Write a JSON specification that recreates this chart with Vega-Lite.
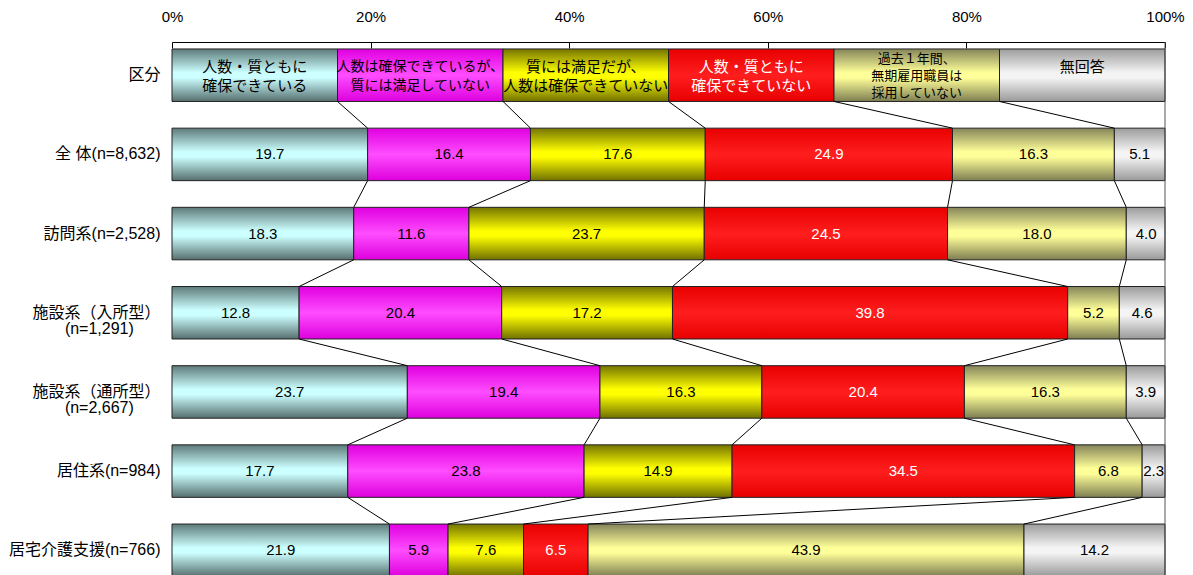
{
  "$schema": "https://vega.github.io/schema/vega-lite/v6.json",
  "width": 993,
  "height": 541.5,
  "autosize": "none",
  "padding": {"left": 172, "top": 42, "right": 28, "bottom": 0},
  "background": "white",
  "config": {
    "view": {"stroke": null},
    "font": "Liberation Sans, Noto Sans CJK JP",
    "axisX": {"tickCount": 5, "labelExpr": "datum.value + '%'", "grid": false, "domainColor": "#000", "tickColor": "#000", "tickSize": -6, "labelPadding": 24, "labelFontSize": 15, "labelColor": "#000", "labelFlush": false},
    "axisY": {"domain": false, "ticks": false, "labelPadding": 12, "labelFontSize": 16, "labelColor": "#000", "labelExpr": "split(datum.label, '\\n')", "labelLineHeight": 16, "labelLimit": 200}
  },
  "data": {"values": [
    {"row": "区分", "i": 0, "k": 0, "cat": "人数・質ともに\n確保できている", "v": 16.6667},
    {"row": "区分", "i": 0, "k": 1, "cat": "人数は確保できているが、\n質には満足していない", "v": 16.6667},
    {"row": "区分", "i": 0, "k": 2, "cat": "質には満足だが、\n人数は確保できていない", "v": 16.6667},
    {"row": "区分", "i": 0, "k": 3, "cat": "人数・質ともに\n確保できていない", "v": 16.6667},
    {"row": "区分", "i": 0, "k": 4, "cat": "過去１年間、\n無期雇用職員は\n採用していない", "v": 16.6667},
    {"row": "区分", "i": 0, "k": 5, "cat": "無回答", "v": 16.6665},
    {"row": "全 体(n=8,632)", "i": 1, "k": 0, "cat": "", "v": 19.7},
    {"row": "全 体(n=8,632)", "i": 1, "k": 1, "cat": "", "v": 16.4},
    {"row": "全 体(n=8,632)", "i": 1, "k": 2, "cat": "", "v": 17.6},
    {"row": "全 体(n=8,632)", "i": 1, "k": 3, "cat": "", "v": 24.9},
    {"row": "全 体(n=8,632)", "i": 1, "k": 4, "cat": "", "v": 16.3},
    {"row": "全 体(n=8,632)", "i": 1, "k": 5, "cat": "", "v": 5.1},
    {"row": "訪問系(n=2,528)", "i": 2, "k": 0, "cat": "", "v": 18.3},
    {"row": "訪問系(n=2,528)", "i": 2, "k": 1, "cat": "", "v": 11.6},
    {"row": "訪問系(n=2,528)", "i": 2, "k": 2, "cat": "", "v": 23.7},
    {"row": "訪問系(n=2,528)", "i": 2, "k": 3, "cat": "", "v": 24.5},
    {"row": "訪問系(n=2,528)", "i": 2, "k": 4, "cat": "", "v": 18.0},
    {"row": "訪問系(n=2,528)", "i": 2, "k": 5, "cat": "", "v": 4.0},
    {"row": "施設系（入所型）\n(n=1,291)\u00a0\u00a0\u00a0\u00a0\u00a0\u00a0\u200b", "i": 3, "k": 0, "cat": "", "v": 12.8},
    {"row": "施設系（入所型）\n(n=1,291)\u00a0\u00a0\u00a0\u00a0\u00a0\u00a0\u200b", "i": 3, "k": 1, "cat": "", "v": 20.4},
    {"row": "施設系（入所型）\n(n=1,291)\u00a0\u00a0\u00a0\u00a0\u00a0\u00a0\u200b", "i": 3, "k": 2, "cat": "", "v": 17.2},
    {"row": "施設系（入所型）\n(n=1,291)\u00a0\u00a0\u00a0\u00a0\u00a0\u00a0\u200b", "i": 3, "k": 3, "cat": "", "v": 39.8},
    {"row": "施設系（入所型）\n(n=1,291)\u00a0\u00a0\u00a0\u00a0\u00a0\u00a0\u200b", "i": 3, "k": 4, "cat": "", "v": 5.2},
    {"row": "施設系（入所型）\n(n=1,291)\u00a0\u00a0\u00a0\u00a0\u00a0\u00a0\u200b", "i": 3, "k": 5, "cat": "", "v": 4.6},
    {"row": "施設系（通所型）\n(n=2,667)\u00a0\u00a0\u00a0\u00a0\u00a0\u00a0\u200b", "i": 4, "k": 0, "cat": "", "v": 23.7},
    {"row": "施設系（通所型）\n(n=2,667)\u00a0\u00a0\u00a0\u00a0\u00a0\u00a0\u200b", "i": 4, "k": 1, "cat": "", "v": 19.4},
    {"row": "施設系（通所型）\n(n=2,667)\u00a0\u00a0\u00a0\u00a0\u00a0\u00a0\u200b", "i": 4, "k": 2, "cat": "", "v": 16.3},
    {"row": "施設系（通所型）\n(n=2,667)\u00a0\u00a0\u00a0\u00a0\u00a0\u00a0\u200b", "i": 4, "k": 3, "cat": "", "v": 20.4},
    {"row": "施設系（通所型）\n(n=2,667)\u00a0\u00a0\u00a0\u00a0\u00a0\u00a0\u200b", "i": 4, "k": 4, "cat": "", "v": 16.3},
    {"row": "施設系（通所型）\n(n=2,667)\u00a0\u00a0\u00a0\u00a0\u00a0\u00a0\u200b", "i": 4, "k": 5, "cat": "", "v": 3.9},
    {"row": "居住系(n=984)", "i": 5, "k": 0, "cat": "", "v": 17.7},
    {"row": "居住系(n=984)", "i": 5, "k": 1, "cat": "", "v": 23.8},
    {"row": "居住系(n=984)", "i": 5, "k": 2, "cat": "", "v": 14.9},
    {"row": "居住系(n=984)", "i": 5, "k": 3, "cat": "", "v": 34.5},
    {"row": "居住系(n=984)", "i": 5, "k": 4, "cat": "", "v": 6.8},
    {"row": "居住系(n=984)", "i": 5, "k": 5, "cat": "", "v": 2.3},
    {"row": "居宅介護支援(n=766)", "i": 6, "k": 0, "cat": "", "v": 21.9},
    {"row": "居宅介護支援(n=766)", "i": 6, "k": 1, "cat": "", "v": 5.9},
    {"row": "居宅介護支援(n=766)", "i": 6, "k": 2, "cat": "", "v": 7.6},
    {"row": "居宅介護支援(n=766)", "i": 6, "k": 3, "cat": "", "v": 6.5},
    {"row": "居宅介護支援(n=766)", "i": 6, "k": 4, "cat": "", "v": 43.9},
    {"row": "居宅介護支援(n=766)", "i": 6, "k": 5, "cat": "", "v": 14.2}
  ]},
  "layer": [
    {
      "transform": [{"stack": "v", "groupby": ["row"], "sort": [{"field": "k", "order": "ascending"}], "as": ["x0", "x1"]}],
      "encoding": {
        "y": {"field": "row", "type": "nominal", "title": null,
          "sort": ["区分", "全 体(n=8,632)", "訪問系(n=2,528)", "施設系（入所型）\n(n=1,291)\u00a0\u00a0\u00a0\u00a0\u00a0\u00a0\u200b", "施設系（通所型）\n(n=2,667)\u00a0\u00a0\u00a0\u00a0\u00a0\u00a0\u200b", "居住系(n=984)", "居宅介護支援(n=766)"],
          "scale": {"paddingInner": 0.337, "paddingOuter": 0.088}}
      },
      "layer": [
        {"transform": [{"filter": "datum.k == 0"}],
         "mark": {"type": "bar", "stroke": "#222", "strokeWidth": 1, "fill": {"gradient": "linear", "x1": 0, "y1": 0, "x2": 0, "y2": 1, "stops": [{"offset": 0, "color": "#5e7a7a"}, {"offset": 0.45, "color": "#ccffff"}, {"offset": 0.55, "color": "#ccffff"}, {"offset": 1, "color": "#566e6e"}]}},
         "encoding": {"x": {"field": "x0", "type": "quantitative", "title": null, "scale": {"domain": [0, 100], "clamp": true, "nice": false}, "axis": {"orient": "top"}}, "x2": {"field": "x1"}}},
        {"transform": [{"filter": "datum.k == 1"}],
         "mark": {"type": "bar", "stroke": "#222", "strokeWidth": 1, "fill": {"gradient": "linear", "x1": 0, "y1": 0, "x2": 0, "y2": 1, "stops": [{"offset": 0, "color": "#e000e0"}, {"offset": 0.5, "color": "#ff4dff"}, {"offset": 1, "color": "#dd00dd"}]}},
         "encoding": {"x": {"field": "x0", "type": "quantitative", "title": null, "axis": {"orient": "top"}}, "x2": {"field": "x1"}}},
        {"transform": [{"filter": "datum.k == 2"}],
         "mark": {"type": "bar", "stroke": "#222", "strokeWidth": 1, "fill": {"gradient": "linear", "x1": 0, "y1": 0, "x2": 0, "y2": 1, "stops": [{"offset": 0, "color": "#757500"}, {"offset": 0.45, "color": "#ffff00"}, {"offset": 0.55, "color": "#ffff00"}, {"offset": 1, "color": "#707000"}]}},
         "encoding": {"x": {"field": "x0", "type": "quantitative", "title": null, "axis": {"orient": "top"}}, "x2": {"field": "x1"}}},
        {"transform": [{"filter": "datum.k == 3"}],
         "mark": {"type": "bar", "stroke": "#222", "strokeWidth": 1, "fill": {"gradient": "linear", "x1": 0, "y1": 0, "x2": 0, "y2": 1, "stops": [{"offset": 0, "color": "#e80000"}, {"offset": 0.5, "color": "#ff1e1e"}, {"offset": 1, "color": "#e80000"}]}},
         "encoding": {"x": {"field": "x0", "type": "quantitative", "title": null, "axis": {"orient": "top"}}, "x2": {"field": "x1"}}},
        {"transform": [{"filter": "datum.k == 4"}],
         "mark": {"type": "bar", "stroke": "#222", "strokeWidth": 1, "fill": {"gradient": "linear", "x1": 0, "y1": 0, "x2": 0, "y2": 1, "stops": [{"offset": 0, "color": "#85855a"}, {"offset": 0.45, "color": "#ffff99"}, {"offset": 0.55, "color": "#ffff99"}, {"offset": 1, "color": "#7e7e52"}]}},
         "encoding": {"x": {"field": "x0", "type": "quantitative", "title": null, "axis": {"orient": "top"}}, "x2": {"field": "x1"}}},
        {"transform": [{"filter": "datum.k == 5"}],
         "mark": {"type": "bar", "stroke": "#222", "strokeWidth": 1, "fill": {"gradient": "linear", "x1": 0, "y1": 0, "x2": 0, "y2": 1, "stops": [{"offset": 0, "color": "#9c9c9c"}, {"offset": 0.45, "color": "#f4f4f4"}, {"offset": 0.55, "color": "#f4f4f4"}, {"offset": 1, "color": "#999999"}]}},
         "encoding": {"x": {"field": "x0", "type": "quantitative", "title": null, "axis": {"orient": "top"}}, "x2": {"field": "x1"}}},
        {"transform": [
           {"window": [{"op": "lead", "field": "x1", "as": "nx"}, {"op": "lead", "field": "row", "as": "nrow"}], "groupby": ["k"], "sort": [{"field": "i", "order": "ascending"}]},
           {"filter": "datum.nrow != null && datum.k < 5"}],
         "mark": {"type": "rule", "color": "#000", "strokeWidth": 1, "yOffset": 26.25, "y2Offset": -26.25},
         "encoding": {"x": {"field": "x1", "type": "quantitative", "title": null, "axis": {"orient": "top"}}, "x2": {"field": "nx"}, "y2": {"field": "nrow"}}},
        {"transform": [
           {"filter": "datum.i > 0"},
           {"fold": ["x0", "x1"], "as": ["kk", "xv"]},
           {"aggregate": [{"op": "mean", "field": "xv", "as": "xm"}], "groupby": ["row", "i", "k", "v"]}],
         "mark": {"type": "text", "fontSize": 15},
         "encoding": {"x": {"field": "xm", "type": "quantitative", "title": null, "axis": {"orient": "top"}},
           "text": {"field": "v", "type": "quantitative", "format": ".1f"},
           "color": {"condition": {"test": "datum.k == 3", "value": "#ffffff"}, "value": "#000000"}}},
        {"transform": [
           {"filter": "datum.i == 0 && datum.k != 4"},
           {"fold": ["x0", "x1"], "as": ["kk", "xv"]},
           {"aggregate": [{"op": "mean", "field": "xv", "as": "xm"}], "groupby": ["row", "i", "k", "cat"]}],
         "mark": {"type": "text", "lineBreak": "\n", "lineHeight": 19, "dy": -8},
         "encoding": {"x": {"field": "xm", "type": "quantitative", "title": null, "axis": {"orient": "top"}},
           "text": {"field": "cat", "type": "nominal"},
           "size": {"condition": {"test": "datum.k == 1", "value": 14}, "value": 15},
           "color": {"condition": {"test": "datum.k == 3", "value": "#ffffff"}, "value": "#000000"}}},
        {"transform": [
           {"filter": "datum.i == 0 && datum.k == 4"},
           {"fold": ["x0", "x1"], "as": ["kk", "xv"]},
           {"aggregate": [{"op": "mean", "field": "xv", "as": "xm"}], "groupby": ["row", "i", "k", "cat"]}],
         "mark": {"type": "text", "fontSize": 13, "lineBreak": "\n", "lineHeight": 17, "dy": -16, "color": "#000"},
         "encoding": {"x": {"field": "xm", "type": "quantitative", "title": null, "axis": {"orient": "top"}},
           "text": {"field": "cat", "type": "nominal"}}}
      ]
    },
    {
      "data": {"values": [{"x": 100}]},
      "mark": {"type": "rule", "color": "#555", "strokeWidth": 1},
      "encoding": {"x": {"field": "x", "type": "quantitative", "title": null, "axis": {"orient": "top"}}}
    }
  ]
}
